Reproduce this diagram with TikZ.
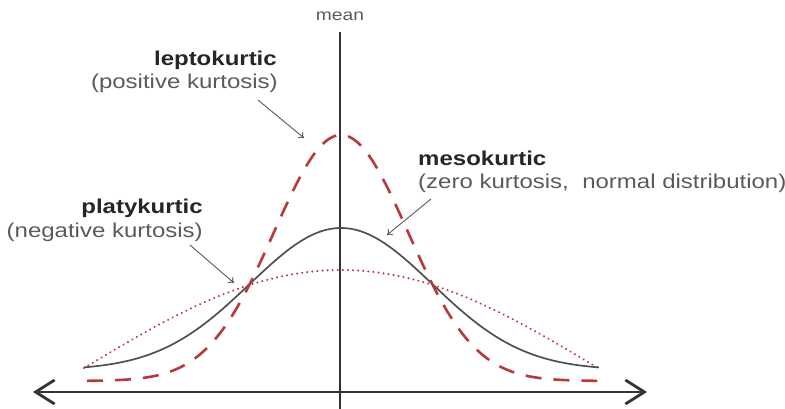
\documentclass[tikz,border=0pt]{standalone}
\usepackage{fontspec}
\setmainfont{Liberation Sans}
\usetikzlibrary{arrows.meta}
\definecolor{curvegray}{HTML}{505050}
\definecolor{curvered}{HTML}{B8383C}
\definecolor{textgray}{HTML}{5A5A5A}
\definecolor{axisgray}{HTML}{333333}
\tikzset{
  label/.style={inner sep=0pt, xscale=1.2, text=textgray, font=\fontsize{20}{23}\selectfont},
  title/.style={label, text=black!85, font=\fontsize{20}{23}\selectfont\bfseries},
  pointer/.style={draw=textgray, line width=0.9pt, -{To[length=5pt,width=8pt]}}
}

\begin{document}
\begin{tikzpicture}[x=1pt, y=-1pt]
  \useasboundingbox (0,0) rectangle (785,409);
  % Axis and mean line
  \coordinate (L) at (33,392);
  \coordinate (R) at (647,392);
  \draw[axisgray, line width=2.8pt, {Straight Barb[length=19pt,width=24pt]}-{Straight Barb[length=19pt,width=24pt]}] (L) -- (R);
  \coordinate (M1) at (340,32);
  \coordinate (M2) at (340,409);
  \draw[axisgray, line width=1.2pt] (M1) -- (M2);
  \node[label, font=\fontsize{16}{18}\selectfont] (mean) at (340,16) {mean};
  % Curves
  \draw[curvered, line width=2.2pt, line cap=round, dash pattern=on 0.1pt off 5pt]
    plot[domain=-2.57:2.58, samples=120, smooth] ({341+100*\x}, {368-98*cos(35.02*\x)});
  \draw[curvegray, line width=1.7pt]
    plot[domain=-2.57:2.58, samples=120, smooth] ({341+100*\x}, {370-142*exp(-(\x*\x)/1.66)});
  \draw[curvered, line width=2.6pt, dash pattern=on 16pt off 12pt]
    plot[domain=-2.54:2.58, samples=120, smooth] ({341+100*\x}, {381-246*exp(-(\x*\x)/0.894)});
  % Labels
  \node[title, anchor=base east] (lepto) at (277,66) {leptokurtic};
  \node[label, anchor=base east] (leptoSub) at (278,89) {(positive kurtosis)};
  \node[title, anchor=base east] (platy) at (203,213) {platykurtic};
  \node[label, anchor=base east] (platySub) at (203,237) {(negative kurtosis)};
  \node[title, anchor=base west] (meso) at (418,166) {mesokurtic};
  \node[label, anchor=base west] (mesoSub) at (418,189) {(zero kurtosis,\ \ normal distribution)};
  % Pointers
  \coordinate (leptoFrom) at (258,100);
  \coordinate (leptoTo) at (304,138);
  \coordinate (platyFrom) at (190,245);
  \coordinate (platyTo) at (234,283);
  \coordinate (mesoFrom) at (431,199);
  \coordinate (mesoTo) at (387,235);
  \draw[pointer] (leptoFrom) -- (leptoTo);
  \draw[pointer] (platyFrom) -- (platyTo);
  \draw[pointer] (mesoFrom) -- (mesoTo);
\end{tikzpicture}
\end{document}
